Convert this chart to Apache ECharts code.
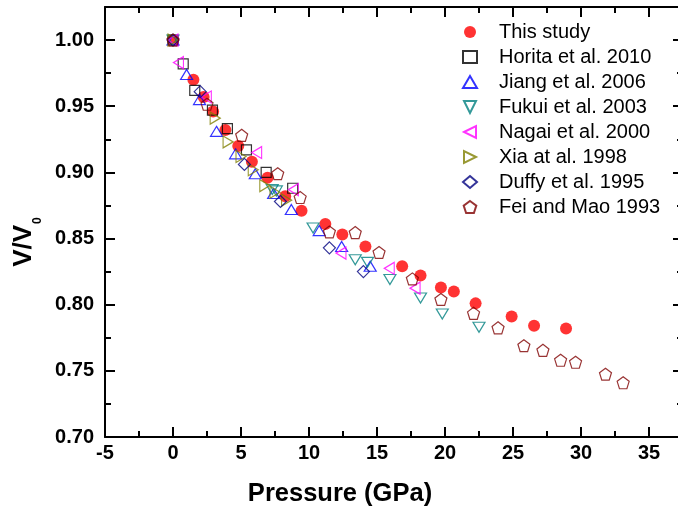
<!DOCTYPE html>
<html>
<head>
<meta charset="utf-8">
<script src="https://cdn.jsdelivr.net/npm/echarts@6/dist/echarts.min.js"></script>
<style>html,body{margin:0;padding:0;background:#fff;}#c{width:678px;height:517px;}</style>
</head>
<body>
<div id="c"></div>
<script>
// ---- data ----
const seriesNames = ['This study','Horita et al. 2010','Jiang et al. 2006','Fukui et al. 2003','Nagai et al. 2000','Xia at al. 1998','Duffy et al. 1995','Fei and Mao 1993'];
const thisStudy = [[0,1.000],[1.5,0.970],[2.25,0.957],[2.95,0.946],[3.85,0.932],[4.8,0.920],[5.8,0.908],[6.95,0.896],[8.25,0.882],[9.45,0.871],[11.2,0.861],[12.45,0.853],[14.15,0.844],[16.85,0.829],[18.2,0.822],[19.7,0.813],[20.65,0.810],[22.25,0.801],[24.9,0.791],[26.55,0.784],[28.9,0.782]];
const horita = [[0,1.000],[0.75,0.982],[1.6,0.962],[2.9,0.947],[4.0,0.933],[5.4,0.917],[6.85,0.900],[8.8,0.888]];
const jiang = [[0,1.000],[1.0,0.974],[1.95,0.955],[3.2,0.931],[4.6,0.914],[6.05,0.899],[7.4,0.884],[8.7,0.872],[10.75,0.856],[12.4,0.844],[14.5,0.829]];
const fukui = [[0,1.000],[7.3,0.887],[7.6,0.886],[10.3,0.858],[13.4,0.834],[14.3,0.832],[15.95,0.819],[18.2,0.805],[19.8,0.793],[22.5,0.783]];
const nagai = [[0,1.000],[0.4,0.983],[2.45,0.957],[6.15,0.915],[8.85,0.887],[12.35,0.839],[15.9,0.8275],[17.8,0.8125]];
const xia = [[0,1.000],[3.1,0.941],[4.05,0.923],[5.0,0.912],[5.9,0.902],[6.75,0.890],[7.5,0.885],[8.35,0.879]];
const duffy = [[0,1.000],[2.0,0.961],[5.25,0.906],[7.9,0.878],[11.5,0.843],[14.0,0.825]];
const feiMao = [[0,1.000],[2.5,0.9515],[5.05,0.928],[7.7,0.899],[9.35,0.881],[11.5,0.855],[13.4,0.8545],[15.15,0.8395],[17.6,0.8195],[19.7,0.804],[22.1,0.7935],[23.9,0.7825],[25.8,0.769],[27.2,0.7655],[28.5,0.758],[29.6,0.7565],[31.8,0.7475],[33.1,0.741]];
const xMin = -5, xMax = 37.5, xMajor = 5, xMinor = 2.5;
const yMin = 0.70, yMax = 1.025, yMajor = 0.05, yMinor = 0.025;

// ---- styles ----
const FONT = '"Liberation Sans", Arial, Helvetica, sans-serif';
const PENT = 'path://M0,-10L9.511,-3.09L5.878,8.09L-5.878,8.09L-9.511,-3.09Z';
const LEFT = 'path://M0,5L10,0L10,10Z';
const RIGHT = 'path://M10,5L0,0L0,10Z';
const DOWN = 'path://M0,0L10,0L5,10Z';
const styles = [
  {symbol:'circle', size:12, color:'#ff0000', filled:true},
  {symbol:'rect', size:10, color:'#000000'},
  {symbol:'triangle', size:[12,10], color:'#0000ff'},
  {symbol:DOWN, size:[12,10], color:'#008080'},
  {symbol:LEFT, size:[10,12], color:'#ff00ff'},
  {symbol:RIGHT, size:[10,12], color:'#808000'},
  {symbol:'diamond', size:12, color:'#000080'},
  {symbol:PENT, size:12, color:'#800000'}
];
const datasets = [thisStudy, horita, jiang, fukui, nagai, xia, duffy, feiMao];

const series = datasets.map((d, i) => {
  const s = styles[i];
  return {
    name: seriesNames[i], type: 'scatter', data: d,
    xAxisIndex: 0, yAxisIndex: 0,
    symbol: s.symbol, symbolSize: s.size,
    itemStyle: s.filled ? {color: s.color} : {color: 'rgba(255,255,255,0)', borderColor: s.color, borderWidth: 1.2},
    emphasis: {disabled: true}, animation: false
  };
});

function xAx(pos, interval, len, main) {
  return {
    type: 'value', position: pos, min: xMin, max: xMax, interval: interval,
    axisLine: {show: main, onZero: false, lineStyle: {color: '#000', width: 2}},
    axisTick: {show: true, inside: true, length: len, lineStyle: {color: '#000', width: 2}},
    axisLabel: {show: main && pos === 'bottom', margin: 6, showMaxLabel: false,
      fontFamily: FONT, fontWeight: 'bold', fontSize: 20, color: '#000'},
    splitLine: {show: false},
    name: (main && pos === 'bottom') ? 'Pressure (GPa)' : '',
    nameLocation: 'middle', nameGap: 44,
    nameTextStyle: {fontFamily: FONT, fontWeight: 'bold', fontSize: 25.5, color: '#000', padding: [0, 108, 0, 0]}
  };
}
function yAx(pos, interval, len, main) {
  return {
    type: 'value', position: pos, min: yMin, max: yMax, interval: interval,
    axisLine: {show: main, onZero: false, lineStyle: {color: '#000', width: 2}},
    axisTick: {show: true, inside: true, length: len, lineStyle: {color: '#000', width: 2}},
    axisLabel: {show: main && pos === 'left', margin: 11, showMaxLabel: false,
      formatter: v => v.toFixed(2),
      fontFamily: FONT, fontWeight: 'bold', fontSize: 20, color: '#000'},
    splitLine: {show: false},
    name: (main && pos === 'left') ? '{a|V/V}{b|0}' : '',
    nameLocation: 'middle', nameGap: 56, nameRotate: 90,
    nameTextStyle: {
      color: '#000',
      padding: [0, 40, 0, 0],
      rich: {
        a: {fontFamily: FONT, fontWeight: 'bold', fontSize: 26, lineHeight: 26, verticalAlign: 'top', color: '#000'},
        b: {fontFamily: FONT, fontWeight: 'bold', fontSize: 12, lineHeight: 12, padding: [21, 0, 0, 1], verticalAlign: 'top', color: '#000'}
      }
    }
  };
}

const chart = echarts.init(document.getElementById('c'), null, {renderer: 'canvas'});
chart.setOption({
  animation: false,
  backgroundColor: '#fff',
  grid: {left: 105, top: 7, width: 578, height: 430, containLabel: false, outerBoundsMode: 'none'},
  xAxis: [xAx('bottom', xMajor, 10, true), xAx('bottom', xMinor, 6, false), xAx('top', xMajor, 10, true), xAx('top', xMinor, 6, false)],
  yAxis: [yAx('left', yMajor, 10, true), yAx('left', yMinor, 6, false), yAx('right', yMajor, 10, true), yAx('right', yMinor, 6, false)],
  legend: {
    orient: 'vertical', left: 462, top: 22, padding: 0, itemGap: 5,
    itemWidth: 14, itemHeight: 12,
    data: seriesNames,
    textStyle: {fontFamily: FONT, fontSize: 20, lineHeight: 20, color: '#000', padding: [0, 0, 0, 17]},
    selectedMode: false
  },
  series: series
});
</script>
</body>
</html>
